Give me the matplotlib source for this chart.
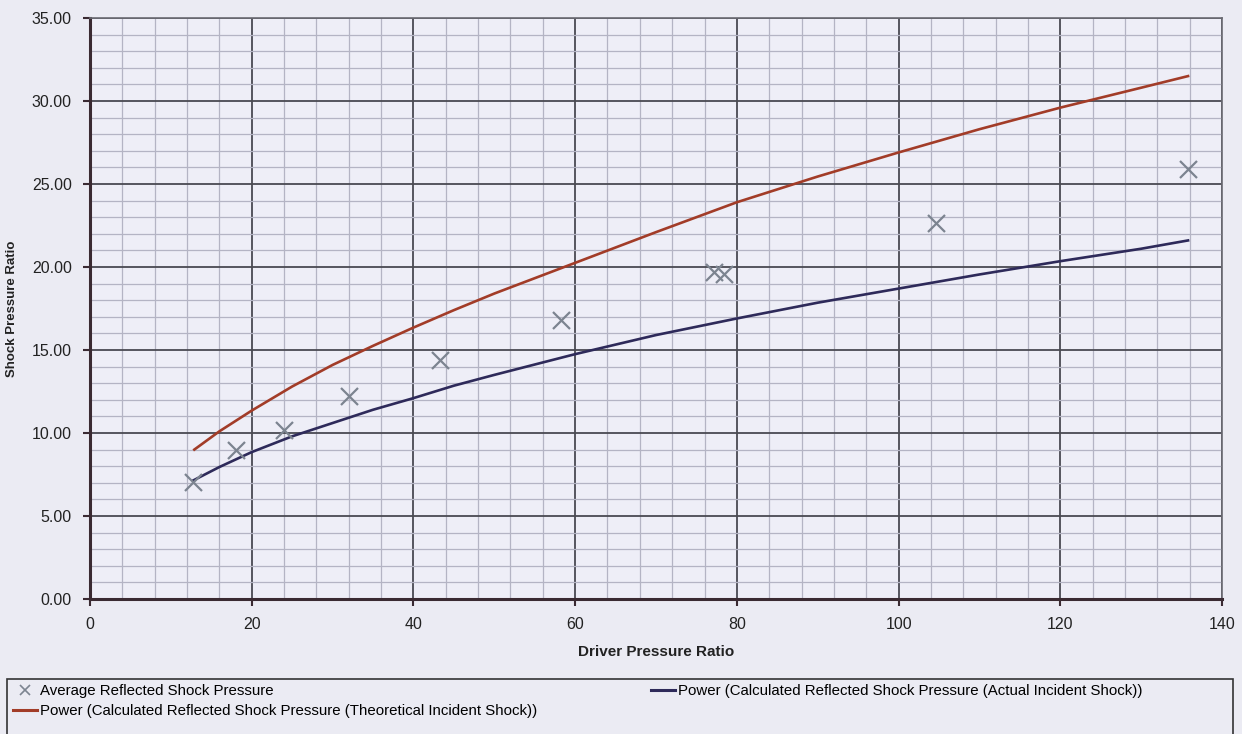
"""
Shock pressure ratio vs driver pressure ratio, with power trendlines.
"""

import matplotlib
matplotlib.use("Agg")
import matplotlib.pyplot as plt
from matplotlib.lines import Line2D
from matplotlib.patches import Rectangle
from matplotlib.ticker import MultipleLocator, FormatStrFormatter

plt.rcParams['font.family'] = ['Liberation Sans Narrow', 'Liberation Sans', 'DejaVu Sans']

driver_ratio = [12.8, 18.0, 24.0, 32.0, 43.3, 58.3, 77.2, 78.4, 104.6, 135.8]
avg_reflected = [7.05, 9.0, 10.2, 12.25, 14.4, 16.8, 19.7, 19.6, 22.65, 25.9]

# trendline readings
actual_x = [12.8, 16, 20, 25, 30, 35, 40, 45, 50, 60, 70, 80, 90, 100, 110, 120, 130, 135.8]
actual_y = [7.15, 7.95, 8.85, 9.8, 10.6, 11.4, 12.1, 12.85, 13.5, 14.75, 15.9, 16.9, 17.85,
            18.7, 19.55, 20.35, 21.1, 21.6]
theory_x = [12.9, 16, 20, 25, 30, 35, 40, 45, 50, 60, 70, 80, 90, 100, 110, 120, 130, 135.8]
theory_y = [9.0, 10.1, 11.35, 12.8, 14.1, 15.25, 16.35, 17.4, 18.4, 20.25, 22.1, 23.9, 25.45,
            26.9, 28.3, 29.6, 30.8, 31.5]

x_label = 'Driver Pressure Ratio'
y_label = 'Shock Pressure Ratio'
lbl_avg = 'Average Reflected Shock Pressure'
lbl_actual = 'Power (Calculated Reflected Shock Pressure (Actual Incident Shock))'
lbl_theory = 'Power (Calculated Reflected Shock Pressure (Theoretical Incident Shock))'

BG = '#ebebf3'
RED = '#a23c28'
NAVY = '#2e2a5a'
MARK = '#7c8490'

fig = plt.figure(figsize=(12.42, 7.34), dpi=100, facecolor=BG)
ax = fig.add_axes([90 / 1242, 1 - 599 / 734, (1222 - 90) / 1242, (599 - 18) / 734])
ax.set_facecolor('#eeeef7')

ax.plot(theory_x, theory_y, color=RED, lw=1.9, zorder=3)
ax.plot(actual_x, actual_y, color=NAVY, lw=1.9, zorder=3)
ax.scatter(driver_ratio, avg_reflected, marker='x', s=150, color=MARK, linewidths=1.6, zorder=4)

ax.set_xlim(0, 140)
ax.set_ylim(0, 35)
ax.xaxis.set_major_locator(MultipleLocator(20))
ax.xaxis.set_minor_locator(MultipleLocator(4))
ax.yaxis.set_major_locator(MultipleLocator(5))
ax.yaxis.set_minor_locator(MultipleLocator(1))
ax.yaxis.set_major_formatter(FormatStrFormatter('%.2f'))

ax.grid(True, which='major', color='#4a4a52', lw=1.3, zorder=1)
ax.grid(True, which='minor', color='#b4b4c4', lw=0.9, zorder=0)
ax.set_axisbelow(True)

for side in ['left', 'bottom']:
    ax.spines[side].set_color('#3a2a32')
    ax.spines[side].set_linewidth(2.2)
for side in ['top', 'right']:
    ax.spines[side].set_color('#6a6a72')
    ax.spines[side].set_linewidth(1.2)

ax.tick_params(which='major', direction='out', length=5, width=1.5, color='#3a2a32',
               labelsize=11.5, labelcolor='#222222', pad=8)
ax.tick_params(which='minor', length=0)

ax.set_xlabel(x_label, fontsize=11, fontweight='bold', color='#222222', labelpad=9)
ax.set_ylabel(y_label, fontsize=9.5, fontweight='bold', color='#222222')
ax.yaxis.set_label_coords(-0.064, 0.5)

# legend box below the chart
fig.patches.append(Rectangle((7 / 1242, -0.01), 1226 / 1242, 1 - 679 / 734 + 0.01,
                             transform=fig.transFigure, fill=False,
                             edgecolor='#333333', lw=1.2))
handles = [
    Line2D([], [], ls='none', marker='x', color=MARK, markersize=7, mew=1.2),
    Line2D([], [], color=RED, lw=2.2),
    Line2D([], [], color=NAVY, lw=2.2),
]
fig.legend(handles, [lbl_avg, lbl_theory, lbl_actual], ncol=2,
           loc='upper left', bbox_to_anchor=(8 / 1242, 1 - 680 / 734),
           frameon=False, fontsize=10.8, handlelength=1.6, handletextpad=0.2,
           columnspacing=7.6, labelspacing=0.35, borderaxespad=0, borderpad=0.3)

plt.savefig('out.png', dpi=100, facecolor=BG)
plt.close()
